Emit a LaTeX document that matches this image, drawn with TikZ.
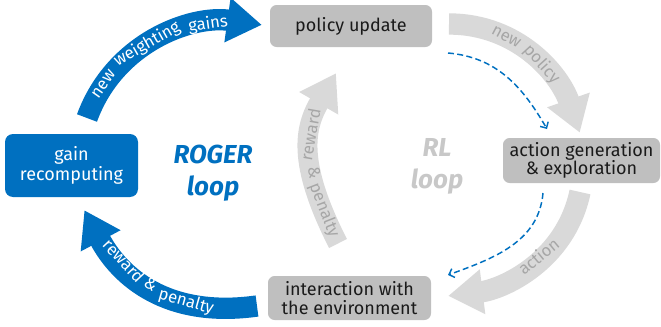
\documentclass[tikz,border=0pt]{standalone}
\usepackage{fontspec}
\setmainfont{Fira Sans}
\usetikzlibrary{arrows.meta}

\definecolor{rogerblue}{HTML}{0070C0}
\definecolor{boxgray}{HTML}{BFBFBF}
\definecolor{boxtext}{HTML}{1A1A1A}
\definecolor{arrowgray}{HTML}{D9D9D9}
\definecolor{labelgray}{HTML}{A6A6A6}
\definecolor{loopgray}{HTML}{C8C8C8}

\begin{document}
\begin{tikzpicture}[x=0.75pt, y=0.75pt,
	box/.style={rounded corners=5pt, fill=boxgray, text=boxtext, align=center, inner sep=0pt,
		font=\fontsize{13.5}{14}\selectfont},
	fatarrow/.style={line width=16pt, -{Triangle[width=32pt,length=26pt]}},
	word/.style={sloped, anchor=mid, inner sep=0pt, font=\fontsize{12.5}{14}\selectfont},
	dasharrow/.style={rogerblue, line width=1.1pt, dash pattern=on 4.5pt off 2.5pt,
		-{Straight Barb[length=3.5pt,width=7pt]}},
	looplabel/.style={font=\fontsize{19.5}{24}\selectfont\bfseries\itshape, align=center}]
	\useasboundingbox (0,0) rectangle (661,326);
	% boxes
	\node[box, minimum width=121.5pt, minimum height=31.5pt] (policy) at (351,300) {policy update};
	\node[box, minimum width=117.75pt, minimum height=33.75pt] (action) at (581.5,165.5) {action generation\\\& exploration};
	\node[box, minimum width=122.25pt, minimum height=33pt] (interaction) at (349.5,28) {interaction with\\the environment};
	\node[box, rounded corners=6pt, fill=rogerblue, text=white, minimum width=99.75pt, minimum height=47.25pt,
		font=\fontsize{13.5}{15}\selectfont] (gain) at (71.5,160.5) {gain\\recomputing};
	\node[looplabel, text=rogerblue] (roger) at (213,153) {ROGER\\loop};
	\node[looplabel, text=loopgray] (rl) at (437,160) {RL\\loop};
	% free ends
	\coordinate (gtail) at (87,208);
	\coordinate (etail) at (257,20);
	\coordinate (ptail) at (449,302);
	\coordinate (atail) at (580,134);
	\coordinate (rtail) at (338,82.5);
	\coordinate (d1s) at (448,273);
	\coordinate (d1e) at (547,197);
	\coordinate (d2s) at (543,133);
	\coordinate (d2e) at (448,51);
	% ROGER loop
	\draw[fatarrow, rogerblue, shorten >=6pt] (gtail) to[out=70, in=172]
		node[word, white, pos=0.165] {new}
		node[word, white, pos=0.44] {weighting}
		node[word, white, pos=0.735] {gains} (policy.west);
	\draw[fatarrow, rogerblue, shorten >=11pt] (etail) to[out=188, in=-62, looseness=1.1]
		node[word, white, pos=0.305] {penalty}
		node[word, white, pos=0.5] {\&}
		node[word, white, pos=0.675] {reward} ([xshift=4.5pt]gain.south);
	% RL loop
	\draw[fatarrow, arrowgray, shorten >=4pt] (ptail) to[out=0, in=109]
		node[word, labelgray, pos=0.315] {new}
		node[word, labelgray, pos=0.565] {policy} (action.north);
	\draw[fatarrow, arrowgray, shorten >=12.75pt] (atail) to[out=258, in=7]
		node[word, labelgray, pos=0.41] {action} (interaction.east);
	\draw[fatarrow, arrowgray, line width=15pt, shorten >=22.5pt] (rtail) to[out=117, in=240, looseness=1.2]
		node[word, labelgray, pos=0.145] {penalty}
		node[word, labelgray, pos=0.34] {\&}
		node[word, labelgray, pos=0.555] {reward} (policy.south);
	% blue dashed
	\draw[dasharrow] (d1s) to[out=-5, in=120] (d1e);
	\draw[dasharrow] (d2s) to[out=265, in=20] (d2e);
\end{tikzpicture}
\end{document}
